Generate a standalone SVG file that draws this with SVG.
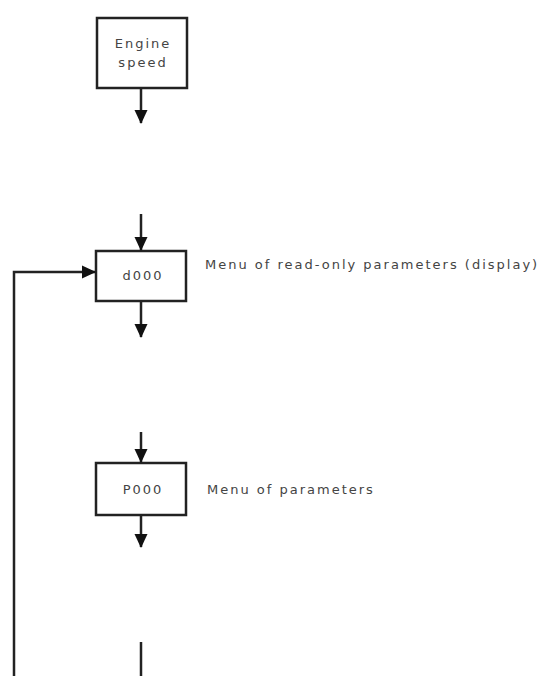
<svg xmlns="http://www.w3.org/2000/svg" width="542" height="676" viewBox="0 0 542 676">
<style>
.box{fill:#fff;stroke:#222;stroke-width:2.5}
.ln{fill:none;stroke:#222;stroke-width:2.5}
.t{font-family:"DejaVu Sans",sans-serif;font-size:13px;letter-spacing:2px;fill:#444}
.c{text-anchor:middle}
</style>
<defs>
<marker id="ah" markerWidth="14" markerHeight="14" refX="13" refY="7" orient="auto" markerUnits="userSpaceOnUse">
<path d="M0,0.5 L14,7 L0,13.5 Z" fill="#111"/>
</marker>
</defs>
<rect width="542" height="676" fill="#fff"/>
<g id="engine">
<rect class="box" x="97" y="18" width="90" height="70"/>
<text class="t c" x="143" y="48">Engine</text>
<text class="t c" x="143" y="67">speed</text>
</g>
<g id="d000">
<rect class="box" x="96" y="251" width="90" height="50"/>
<text class="t c" x="143" y="280">d000</text>
<text class="t" x="205" y="269">Menu of read-only parameters (display)</text>
</g>
<g id="p000">
<rect class="box" x="96" y="463" width="90" height="52"/>
<text class="t c" x="143" y="494">P000</text>
<text class="t" x="207" y="494">Menu of parameters</text>
</g>
<g id="connectors">
<line class="ln" x1="141" y1="88" x2="141" y2="123" marker-end="url(#ah)"/>
<line class="ln" x1="141" y1="214" x2="141" y2="250" marker-end="url(#ah)"/>
<line class="ln" x1="141" y1="301" x2="141" y2="337" marker-end="url(#ah)"/>
<line class="ln" x1="141" y1="432" x2="141" y2="462" marker-end="url(#ah)"/>
<line class="ln" x1="141" y1="515" x2="141" y2="547" marker-end="url(#ah)"/>
<line class="ln" x1="141" y1="642" x2="141" y2="676"/>
<polyline class="ln" points="14,676 14,272 95,272" marker-end="url(#ah)"/>
</g>
</svg>
